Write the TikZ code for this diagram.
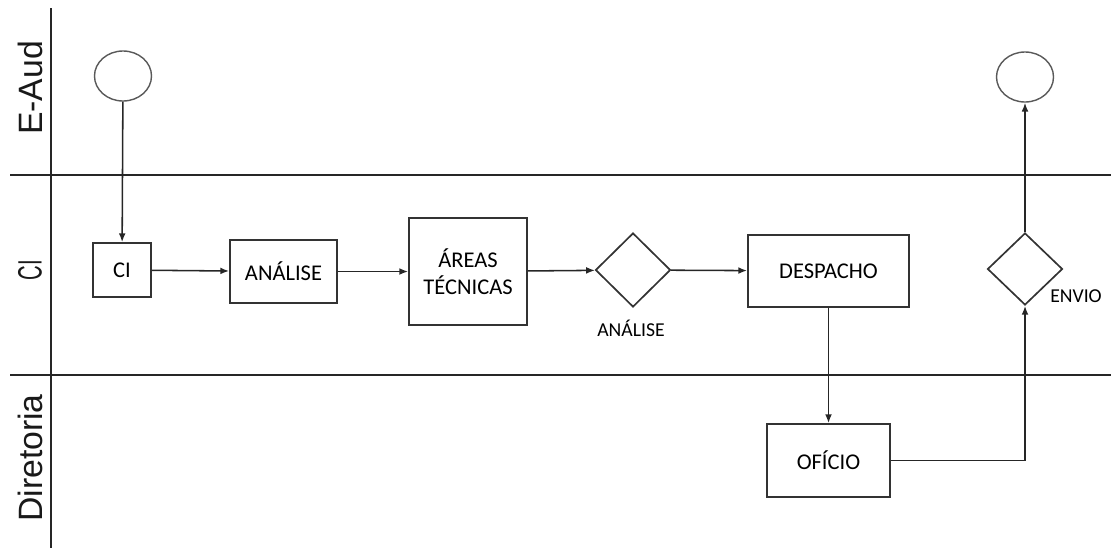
\documentclass[tikz,border=0pt]{standalone}
\usepackage{fontspec}
\setmainfont{Carlito}
\newfontfamily\lanefont{Liberation Sans}
\usepackage{tikz}
\usetikzlibrary{shapes, arrows.meta, positioning, calc}

\begin{document}
\begin{tikzpicture}[
  x=0.025cm, y=-0.025cm,
  lane/.style={draw=black!85, line width=1.4pt},
  lanelabel/.style={rotate=90, font=\lanefont\fontsize{24}{28}\selectfont, text=black!90},
  pbox/.style={draw=black!80, line width=1.2pt, rectangle, inner sep=2pt, align=center, font=\fontsize{16}{19}\selectfont},
  dbox/.style={draw=black!80, line width=1.2pt, diamond, inner sep=0pt, minimum width=1.875cm, minimum height=1.85cm},
  ebox/.style={draw=black!65, line width=1pt, ellipse, inner sep=0pt, minimum width=1.425cm, minimum height=1.25cm},
  tag/.style={font=\fontsize{14}{17}\selectfont},
  flow/.style={draw=black!85, line width=1.1pt, -{Latex[length=2.2mm, width=1.7mm]}}
]
  \useasboundingbox (0,0) rectangle (1111,548);

  % swimlanes
  \coordinate (vtop) at (51,8);
  \coordinate (vbot) at (51,548);
  \draw[lane] (vtop) -- (vbot);
  \coordinate (l1a) at (10,175);
  \coordinate (l1b) at (1111,175);
  \coordinate (l2a) at (10,375);
  \coordinate (l2b) at (1111,375);
  \draw[lane] (l1a) -- (l1b);
  \draw[lane] (l2a) -- (l2b);
  \node[lanelabel] (laneA) at (30,88) {E-Aud};
  \node[lanelabel] (laneB) at (30,270) {\scalebox{0.6}[1]{CI}};
  \node[lanelabel] (laneC) at (30,458) {Diretoria};

  % process
  \node[ebox] (start) at (123,76) {};
  \node[pbox, minimum width=1.45cm, minimum height=1.35cm] (ci) at (122,270) {CI};
  \node[pbox, minimum width=2.675cm, minimum height=1.575cm] (analise) at (283.5,271.5) {ANÁLISE};
  \node[pbox, minimum width=2.95cm, minimum height=2.675cm] (areas) at (468,271.5) {ÁREAS\\TÉCNICAS};
  \node[dbox] (dec1) at (633,270) {};
  \node[tag] (dec1lbl) at (631,328) {ANÁLISE};
  \node[pbox, minimum width=4.025cm, minimum height=1.8cm] (despacho) at (828.5,271) {DESPACHO};
  \node[pbox, minimum width=3.075cm, minimum height=1.825cm] (oficio) at (828.5,460.5) {OFÍCIO};
  \node[dbox, minimum height=1.8cm] (dec2) at (1025,269) {};
  \node[tag] (dec2lbl) at (1076,296) {ENVIO};
  \node[ebox] (end) at (1025,77) {};

  % connectors
  \draw[flow] (start) -- (ci);
  \draw[flow] (ci) -- (analise);
  \draw[flow] (analise) -- (areas);
  \draw[flow] (areas) -- (dec1);
  \draw[flow] (dec1) -- (despacho);
  \draw[flow] (despacho) -- (oficio);
  \draw[flow] (oficio.east) -| (dec2.south);
  \draw[flow] (dec2) -- (end);
\end{tikzpicture}
\end{document}
